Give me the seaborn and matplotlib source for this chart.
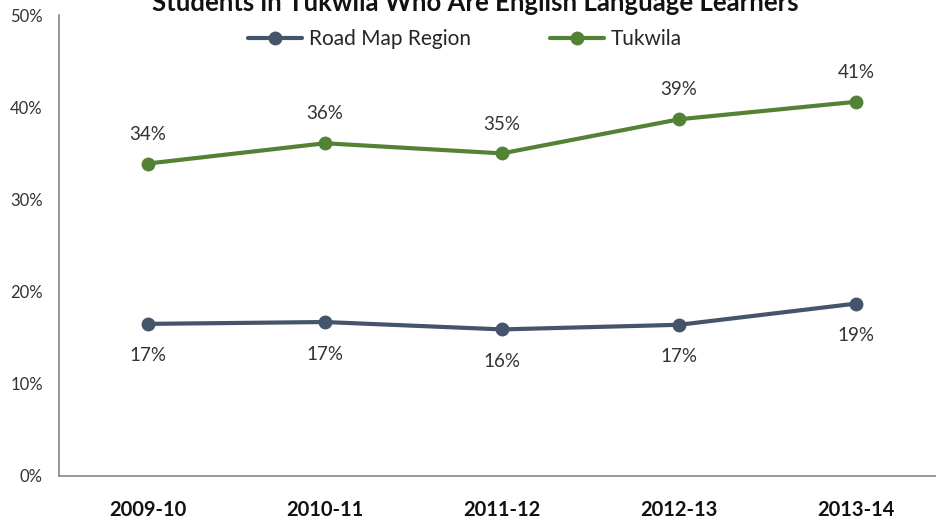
import pandas as pd
import seaborn as sns
import matplotlib.pyplot as plt

# --- data ---
years = ['2009-10', '2010-11', '2011-12', '2012-13', '2013-14']
road_map = [16.5, 16.7, 15.9, 16.4, 18.7]
tukwila = [33.9, 36.1, 35.0, 38.7, 40.6]
road_labels = ['17%', '17%', '16%', '17%', '19%']
tukwila_labels = ['34%', '36%', '35%', '39%', '41%']
series_names = ['Road Map Region', 'Tukwila']
colors = ['#44546A', '#548235']

df = pd.DataFrame({
    'year': years * 2,
    'pct': road_map + tukwila,
    'series': [series_names[0]] * len(years) + [series_names[1]] * len(years),
})

sns.set_theme(style='white')
plt.rcParams['font.family'] = ['Lato', 'DejaVu Sans']

fig = plt.figure(figsize=(9.37, 5.23), dpi=100)
ax = fig.add_axes([0.0635, 0.09, 0.9445, 0.881])

sns.lineplot(data=df, x='year', y='pct', hue='series', palette=colors,
             marker='o', markersize=10, markeredgewidth=0, linewidth=3,
             ax=ax, clip_on=False)

# data labels
for i, (v, lab) in enumerate(zip(tukwila, tukwila_labels)):
    ax.annotate(lab, (i, v), xytext=(0, 15), textcoords='offset points',
                ha='center', va='bottom', fontsize=13.5, color='#333333')
for i, (v, lab) in enumerate(zip(road_map, road_labels)):
    ax.annotate(lab, (i, v), xytext=(0, -17), textcoords='offset points',
                ha='center', va='top', fontsize=13.5, color='#333333')

ax.set_xlim(-0.5, 4.5)
ax.set_ylim(0, 50)
ax.set_yticks(range(0, 51, 10))
ax.set_yticklabels([f'{t}%' for t in range(0, 51, 10)], fontsize=12, color='#333333')
ax.tick_params(axis='x', labelsize=14.5, pad=17, length=0)
for t in ax.get_xticklabels():
    t.set_fontweight('bold')
    t.set_color('#111111')
ax.tick_params(axis='y', pad=12, length=0)
ax.set_xlabel('')
ax.set_ylabel('')

for s in ['top', 'right']:
    ax.spines[s].set_visible(False)
for s in ['left', 'bottom']:
    ax.spines[s].set_color('#888888')
    ax.spines[s].set_linewidth(1.2)

ax.legend(loc='upper center', bbox_to_anchor=(0.458, 1.01), ncol=2, frameon=False,
          fontsize=15, handlelength=2.6, columnspacing=3.8, handletextpad=0.3)

fig.text(0.507, 0.995, 'Students in Tukwila Who Are English Language Learners',
         ha='center', va='center', fontsize=18.5, fontweight='bold', color='#111111')

fig.savefig('out.png', dpi=100)
